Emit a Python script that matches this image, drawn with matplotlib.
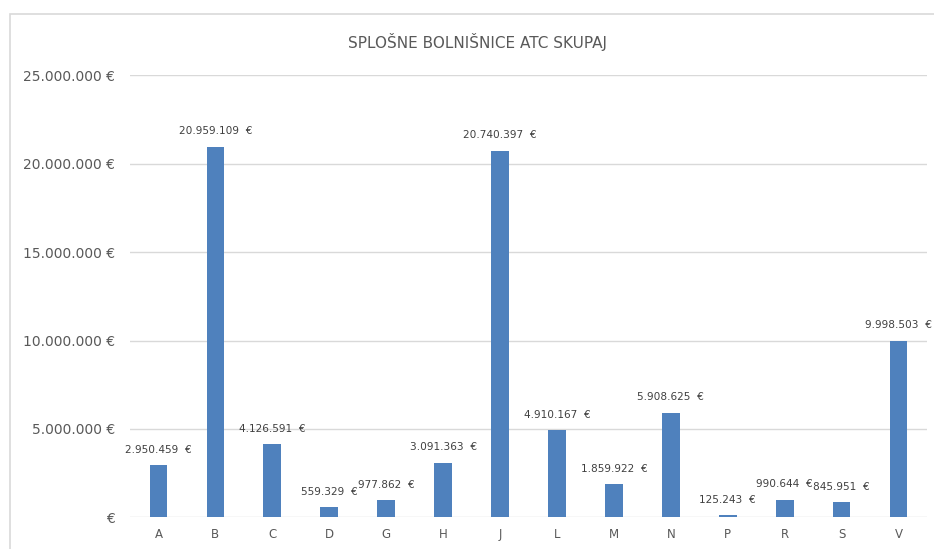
import matplotlib
matplotlib.use("Agg")
import matplotlib.pyplot as plt
from matplotlib.patches import Rectangle

categories = ["A", "B", "C", "D", "G", "H", "J", "L", "M", "N", "P", "R", "S", "V"]
values = [2950459, 20959109, 4126591, 559329, 977862, 3091363, 20740397,
          4910167, 1859922, 5908625, 125243, 990644, 845951, 9998503]
yticks = [0, 5000000, 10000000, 15000000, 20000000, 25000000]
title = "SPLOŠNE BOLNIŠNICE ATC SKUPAJ"

def fmt(v):
    s = f"{v:,}".replace(",", ".")
    return s

fig = plt.figure(figsize=(9.34, 5.49), dpi=100)
fig.patch.set_facecolor("white")
# chart border
fig.patches.append(Rectangle((10/934, -0.1), 1.2, 1 - 14/549 + 0.1,
                             transform=fig.transFigure, fill=False,
                             edgecolor="#d9d9d9", linewidth=1.2))

ax = fig.add_axes([130/934, 1 - 517.3/549, (927 - 130)/934, (517.3 - 75.3)/549])
x = list(range(len(categories)))
ax.bar(x, values, width=0.31, color="#4f81bd", zorder=3)
ax.set_xlim(-0.5, len(categories) - 0.5)
ax.set_ylim(0, 25000000)
ax.set_yticks(yticks)
ax.set_yticklabels([("" if t == 0 else fmt(t) + " ") + "€" for t in yticks])
ax.set_xticks(x)
ax.set_xticklabels(categories)
ax.grid(axis="y", color="#d9d9d9", linewidth=1.0, zorder=0)
for s in ax.spines.values():
    s.set_visible(False)
ax.tick_params(axis="y", length=0, pad=11, labelsize=10, labelcolor="#595959")
ax.tick_params(axis="x", length=0, pad=8, labelsize=8.5, labelcolor="#595959")

for xi, v in zip(x, values):
    ax.annotate(fmt(v) + "  €", (xi, v), xytext=(0, 7.5), textcoords="offset points",
                ha="center", va="bottom", fontsize=7.6, color="#404040")

fig.text(478/934, 1 - 42/549, title, ha="center", va="center",
         fontsize=11, color="#595959")

fig.savefig("out.png", dpi=100)
